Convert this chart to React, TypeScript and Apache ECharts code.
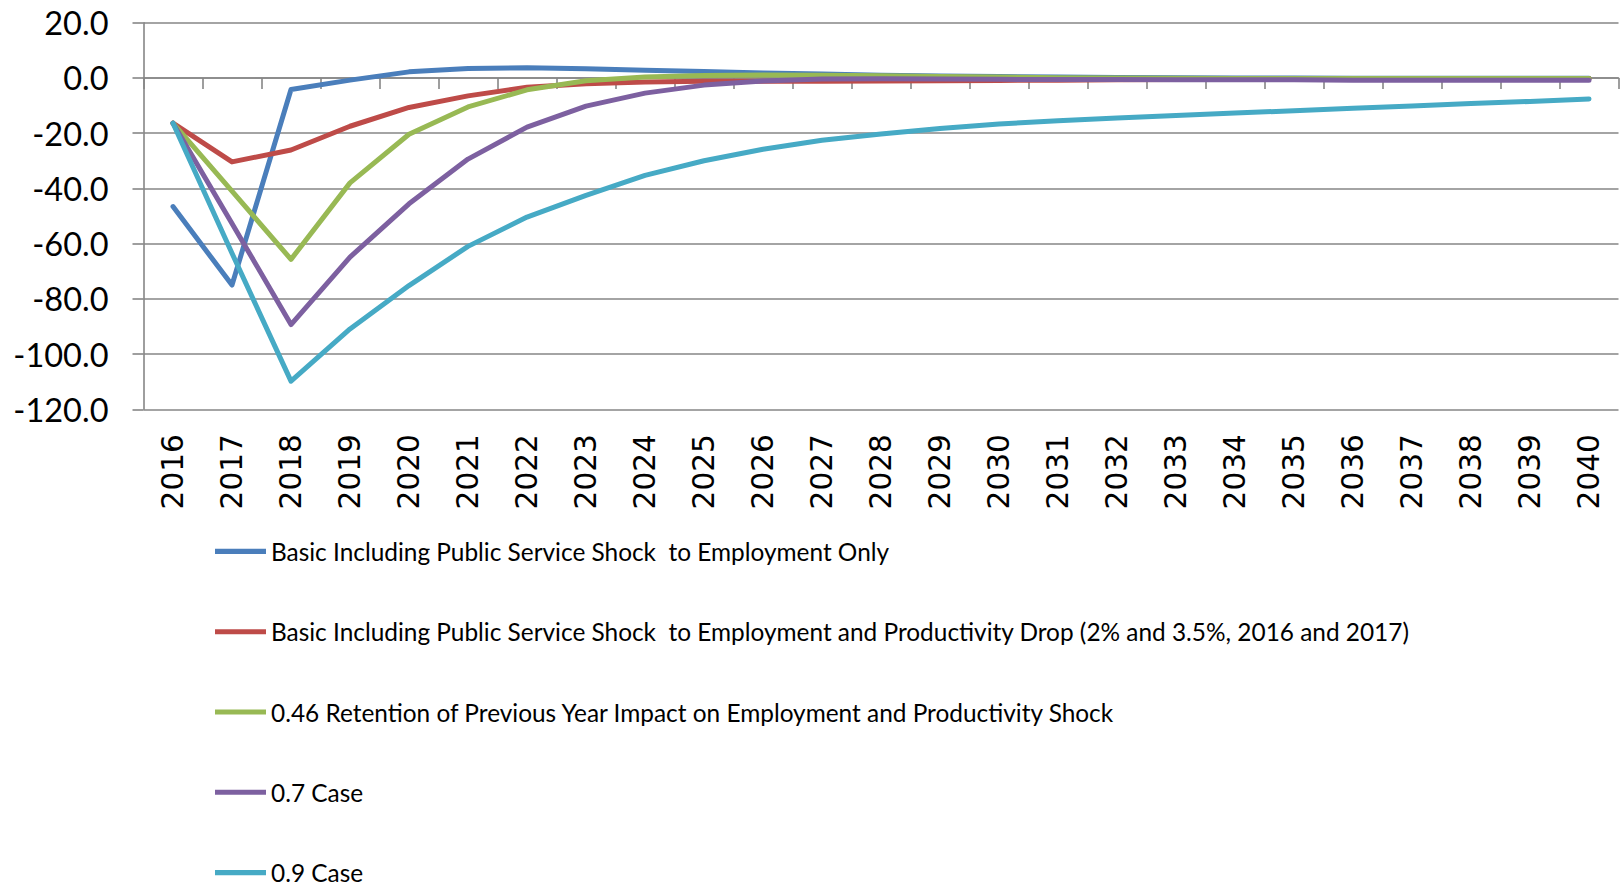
import React, { useEffect, useRef } from "react";
import * as echarts from "echarts";

const years = [
  "2016", "2017", "2018", "2019", "2020", "2021", "2022", "2023", "2024", "2025",
  "2026", "2027", "2028", "2029", "2030", "2031", "2032", "2033", "2034", "2035",
  "2036", "2037", "2038", "2039", "2040",
];

const seriesNames = [
  "Basic Including Public Service Shock  to Employment Only",
  "Basic Including Public Service Shock  to Employment and Productivity Drop (2% and 3.5%, 2016 and 2017)",
  "0.46 Retention of Previous Year Impact on Employment and Productivity Shock",
  "0.7 Case",
  "0.9 Case",
];

const basicEmployment = [
  -46.6, -75.0, -4.2, -0.8, 2.2, 3.4, 3.7, 3.3, 2.8, 2.3,
  1.8, 1.4, 1.0, 0.7, 0.5, 0.3, 0.2, 0.1, 0.0, 0.0,
  -0.1, -0.1, -0.1, -0.1, -0.1,
];
const basicProductivity = [
  -16.4, -30.4, -26.1, -17.5, -10.7, -6.5, -3.4, -2.1, -1.5, -1.2,
  -1.2, -1.2, -1.1, -1.0, -0.9, -0.8, -0.7, -0.6, -0.5, -0.4,
  -0.4, -0.3, -0.3, -0.2, -0.2,
];
const retention046 = [
  -16.4, -41.0, -65.7, -38.0, -20.4, -10.5, -4.3, -1.0, 0.3, 0.9,
  1.1, 1.0, 0.8, 0.5, 0.3, 0.1, 0.0, -0.1, -0.2, -0.2,
  -0.2, -0.2, -0.2, -0.2, -0.2,
];
const case07 = [
  -16.4, -52.7, -89.3, -64.9, -45.6, -29.4, -17.8, -10.2, -5.5, -2.6,
  -1.1, -0.4, -0.3, -0.4, -0.5, -0.6, -0.6, -0.7, -0.7, -0.7,
  -0.8, -0.8, -0.8, -0.8, -0.8,
];
const case09 = [
  -16.4, -63.5, -109.8, -90.9, -75.2, -61.0, -50.4, -42.5, -35.3, -30.0,
  -25.8, -22.6, -20.3, -18.3, -16.7, -15.5, -14.5, -13.6, -12.7, -11.9,
  -11.0, -10.2, -9.3, -8.5, -7.6,
];

const seriesData = [basicEmployment, basicProductivity, retention046, case07, case09];
const colors = ["#4A7EBB", "#BE4B48", "#98B954", "#7D60A0", "#46AAC5"];

const gridColor = "#868686";

export default function App() {
  const ref = useRef<HTMLDivElement>(null);

  useEffect(() => {
    if (!ref.current) return;
    const chart = echarts.init(ref.current, null, { renderer: "svg" });
    chart.setOption({
      animation: false,
      backgroundColor: "#ffffff",
      grid: {
        left: 143.5,
        top: 22.7,
        right: 4.5,
        bottom: 478.7,
        outerBoundsMode: "none",
      },
      legend: {
        orient: "vertical",
        left: 215,
        top: 539.4,
        padding: 0,
        height: 420,
        itemWidth: 51,
        itemHeight: 24,
        itemGap: 56.3,
        icon: "path://M0,0 L10,0 L10,1 L0,1 Z",
        data: seriesNames.map((n, i) => ({
          name: n,
          itemStyle: { color: colors[i] },
        })),
        textStyle: {
          fontFamily: "Lato",
          fontSize: 24.4,
          color: "#000000",
        },
      },
      xAxis: [
        {
          type: "category",
          data: years,
          position: "bottom",
          boundaryGap: true,
          axisLine: { show: true, onZero: true, lineStyle: { color: gridColor, width: 1.6 } },
          axisTick: { show: true, length: 11, lineStyle: { color: gridColor, width: 1.6 } },
          axisLabel: { show: false },
          splitLine: { show: false },
        },
        {
          type: "category",
          data: years,
          position: "bottom",
          boundaryGap: true,
          axisLine: { show: false, onZero: false },
          axisTick: { show: false },
          axisLabel: {
            show: true,
            rotate: 90,
            margin: 25,
            interval: 0,
            fontFamily: "DejaVu Sans",
            fontSize: 29.5,
            color: "#000000",
          },
          splitLine: { show: false },
        },
      ],
      yAxis: {
        type: "value",
        min: -120,
        max: 20,
        interval: 20,
        axisLine: { show: true, lineStyle: { color: gridColor, width: 1.6 } },
        axisTick: { show: true, length: 11, lineStyle: { color: gridColor, width: 1.6 } },
        splitLine: { show: true, lineStyle: { color: gridColor, width: 1.6 } },
        axisLabel: {
          margin: 35,
          fontFamily: "Lato",
          fontSize: 32.5,
          color: "#000000",
          formatter: (v: number) => v.toFixed(1),
        },
      },
      series: seriesData.map((d, i) => ({
        name: seriesNames[i],
        type: "line",
        xAxisIndex: 0,
        data: d,
        symbol: "none",
        showSymbol: false,
        smooth: false,
        color: colors[i],
        lineStyle: { color: colors[i], width: 5, cap: "round", join: "round" },
        emphasis: { disabled: true },
      })),
    });
    return () => chart.dispose();
  }, []);

  return (
    <div
      ref={ref}
      style={{ position: "fixed", left: 0, top: 0, width: 1623, height: 888, background: "#fff" }}
    />
  );
}
